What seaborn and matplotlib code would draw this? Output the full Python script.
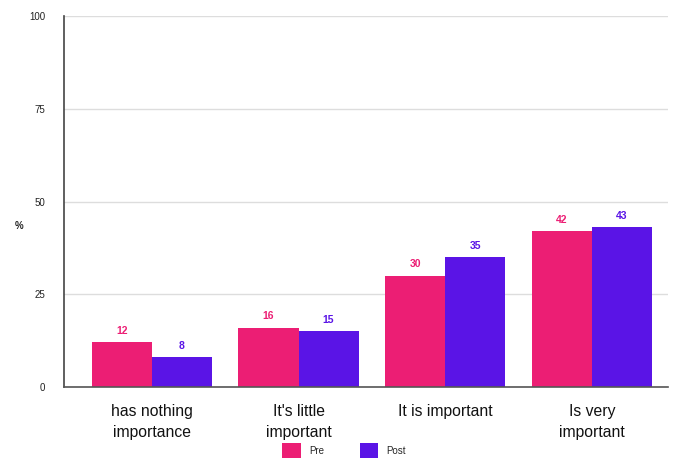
import matplotlib
matplotlib.use("Agg")
import matplotlib.pyplot as plt
from matplotlib.patches import Patch
import seaborn as sns
import pandas as pd

categories = ["has nothing\nimportance", "It's little\nimportant", "It is important", "Is very\nimportant"]
pre_values = [12, 16, 30, 42]
post_values = [8, 15, 35, 43]
series_names = ["Pre", "Post"]
y_ticks = [0, 25, 50, 75, 100]

colors = {"Pre": "#EC1E74", "Post": "#5A14E6"}

df = pd.DataFrame({
    "category": categories * 2,
    "value": pre_values + post_values,
    "series": ["Pre"] * len(categories) + ["Post"] * len(categories),
})

sns.set_theme(style="white")
plt.rcParams["font.family"] = ["Liberation Sans", "DejaVu Sans"]

fig = plt.figure(figsize=(6.75, 4.61), dpi=100)
ax = fig.add_axes([64 / 675, 1 - 387 / 461, (668 - 64) / 675, (387 - 16) / 461])

sns.barplot(data=df, x="category", y="value", hue="series", hue_order=series_names,
            palette=colors, width=0.82, saturation=1, ax=ax, legend=False,
            edgecolor="none", linewidth=0)

for container, name in zip(ax.containers, series_names):
    ax.bar_label(container, fmt="%d", padding=4.5, color=colors[name],
                 fontsize=7.5, fontweight="bold")

ax.set_ylim(0, 100)
ax.set_xlim(-0.6, 3.52)
ax.set_yticks(y_ticks)
ax.set_yticklabels([str(t) for t in y_ticks], fontsize=7, color="#222222")
ax.tick_params(axis="y", length=0, pad=13.5)
ax.tick_params(axis="x", length=0, pad=12)
for lbl in ax.get_xticklabels():
    lbl.set_fontsize(11.3)
    lbl.set_color("#111111")
    lbl.set_linespacing(1.5)

ax.yaxis.grid(True, color="#DDDDDD", linewidth=1)
ax.set_axisbelow(True)
ax.set_xlabel("")
ax.set_ylabel("%", rotation=0, fontsize=7, fontweight="bold", color="#222222",
              va="center", ha="center")
ax.yaxis.set_label_coords(-0.075, 0.434)

for side in ["top", "right"]:
    ax.spines[side].set_visible(False)
ax.spines["left"].set_color("#444444")
ax.spines["bottom"].set_color("#555555")
ax.spines["left"].set_linewidth(1.2)
ax.spines["bottom"].set_linewidth(1.2)

handles = [Patch(facecolor=colors[n], edgecolor="none", label=n) for n in series_names]
fig.legend(handles=handles, loc="lower center", bbox_to_anchor=(0.51, -0.012), ncol=2,
           frameon=False, fontsize=7, handlelength=1.9, handleheight=1.9,
           columnspacing=3.6, handletextpad=0.9)

fig.savefig("out.png", dpi=100)
